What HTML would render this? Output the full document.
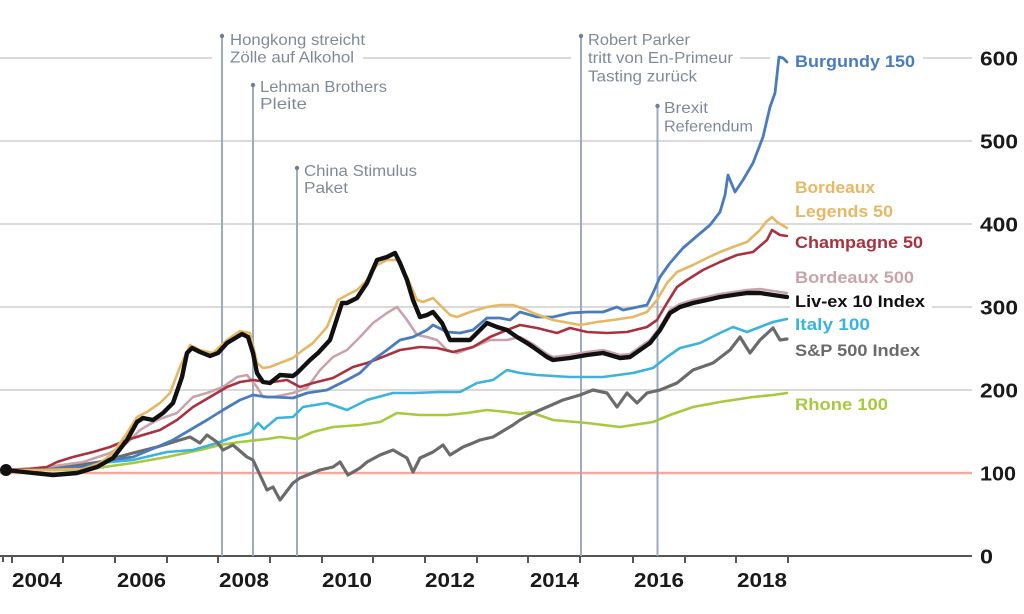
<!DOCTYPE html>
<html>
<head>
<meta charset="utf-8">
<style>
html,body{margin:0;padding:0;background:#fff;}
svg{display:block;}
text{font-family:"Liberation Sans",sans-serif;}
.ann{fill:#7f8a99;font-size:16px;}
.lab{font-size:17px;font-weight:bold;}
.ax{fill:#1a1a1a;font-size:20px;font-weight:bold;}
.s{fill:none;stroke-linejoin:round;stroke-linecap:round;}
</style>
</head>
<body>
<svg width="1024" height="614" viewBox="0 0 1024 614" xmlns="http://www.w3.org/2000/svg">
<rect width="1024" height="614" fill="#fff"/>

<!-- gridlines -->
<g stroke="#cdcdcd" stroke-width="1.6">
  <line x1="0" y1="58" x2="212" y2="58"/>
  <line x1="363" y1="58" x2="571" y2="58"/>
  <line x1="740" y1="58" x2="770" y2="58"/>
  <line x1="923" y1="58" x2="972" y2="58"/>
  <line x1="0" y1="141" x2="972" y2="141"/>
  <line x1="0" y1="224" x2="972" y2="224"/>
  <line x1="0" y1="307" x2="790" y2="307"/>
  <line x1="932" y1="307" x2="972" y2="307"/>
  <line x1="0" y1="390" x2="972" y2="390"/>
</g>
<!-- 100 baseline -->
<line x1="0" y1="473" x2="972" y2="473" stroke="#f3a99b" stroke-width="2.4"/>

<!-- x axis -->
<g stroke="#555" stroke-width="2">
  <line x1="0" y1="556" x2="972" y2="556"/>
  <line x1="3" y1="556" x2="3" y2="562"/>
  <line x1="12" y1="556" x2="12" y2="563"/>
  <line x1="63" y1="556" x2="63" y2="563"/>
  <line x1="115" y1="556" x2="115" y2="563"/>
  <line x1="167" y1="556" x2="167" y2="563"/>
  <line x1="218" y1="556" x2="218" y2="563"/>
  <line x1="270" y1="556" x2="270" y2="563"/>
  <line x1="322" y1="556" x2="322" y2="563"/>
  <line x1="373" y1="556" x2="373" y2="563"/>
  <line x1="425" y1="556" x2="425" y2="563"/>
  <line x1="477" y1="556" x2="477" y2="563"/>
  <line x1="528" y1="556" x2="528" y2="563"/>
  <line x1="580" y1="556" x2="580" y2="563"/>
  <line x1="633" y1="556" x2="633" y2="563"/>
  <line x1="685" y1="556" x2="685" y2="563"/>
  <line x1="736" y1="556" x2="736" y2="563"/>
  <line x1="788" y1="556" x2="788" y2="563"/>
</g>
<g class="ax">
  <text x="12" y="587" textLength="50" lengthAdjust="spacingAndGlyphs">2004</text>
  <text x="117" y="587" textLength="49" lengthAdjust="spacingAndGlyphs">2006</text>
  <text x="219" y="587" textLength="50" lengthAdjust="spacingAndGlyphs">2008</text>
  <text x="322" y="587" textLength="50" lengthAdjust="spacingAndGlyphs">2010</text>
  <text x="425" y="587" textLength="50" lengthAdjust="spacingAndGlyphs">2012</text>
  <text x="530" y="587" textLength="49" lengthAdjust="spacingAndGlyphs">2014</text>
  <text x="634" y="587" textLength="50" lengthAdjust="spacingAndGlyphs">2016</text>
  <text x="737" y="587" textLength="50" lengthAdjust="spacingAndGlyphs">2018</text>
</g>
<!-- y labels -->
<g class="ax">
  <text x="980" y="65.5" textLength="38" lengthAdjust="spacingAndGlyphs">600</text>
  <text x="980" y="148.5" textLength="38" lengthAdjust="spacingAndGlyphs">500</text>
  <text x="980" y="231.5" textLength="38" lengthAdjust="spacingAndGlyphs">400</text>
  <text x="980" y="314.5" textLength="38" lengthAdjust="spacingAndGlyphs">300</text>
  <text x="980" y="397.5" textLength="38" lengthAdjust="spacingAndGlyphs">200</text>
  <text x="980" y="480.5" textLength="36" lengthAdjust="spacingAndGlyphs">100</text>
  <text x="980" y="563.5" textLength="13" lengthAdjust="spacingAndGlyphs">0</text>
</g>

<!-- annotation lines -->
<g stroke="#9cabbf" stroke-width="2">
  <line x1="222" y1="36" x2="222" y2="556"/>
  <line x1="253" y1="85" x2="253" y2="556"/>
  <line x1="297" y1="168" x2="297" y2="556"/>
  <line x1="581" y1="36" x2="581" y2="556"/>
  <line x1="657.5" y1="106" x2="657.5" y2="556"/>
</g>
<g fill="#6f7f96">
  <circle cx="222" cy="36" r="2.2"/>
  <circle cx="253" cy="85" r="2.2"/>
  <circle cx="297" cy="168" r="2.2"/>
  <circle cx="581" cy="36" r="2.2"/>
  <circle cx="657.5" cy="106" r="2.2"/>
</g>
<g class="ann">
  <text x="230" y="45" textLength="135" lengthAdjust="spacingAndGlyphs">Hongkong streicht</text>
  <text x="230" y="62.5" textLength="124" lengthAdjust="spacingAndGlyphs">Zölle auf Alkohol</text>
  <text x="260" y="92" textLength="127" lengthAdjust="spacingAndGlyphs">Lehman Brothers</text>
  <text x="260" y="109" textLength="47" lengthAdjust="spacingAndGlyphs">Pleite</text>
  <text x="304" y="176" textLength="113" lengthAdjust="spacingAndGlyphs">China Stimulus</text>
  <text x="304" y="193" textLength="44" lengthAdjust="spacingAndGlyphs">Paket</text>
  <text x="588" y="45" textLength="102" lengthAdjust="spacingAndGlyphs">Robert Parker</text>
  <text x="588" y="63" textLength="145" lengthAdjust="spacingAndGlyphs">tritt von En-Primeur</text>
  <text x="588" y="81.5" textLength="109" lengthAdjust="spacingAndGlyphs">Tasting zurück</text>
  <text x="664" y="113" textLength="44" lengthAdjust="spacingAndGlyphs">Brexit</text>
  <text x="664" y="131.5" textLength="89" lengthAdjust="spacingAndGlyphs">Referendum</text>
</g>

<!-- series -->
<!-- Rhone -->
<polyline class="s" stroke="#a6c93e" stroke-width="2.6" points="6,470 83,470 133,463 167,457 200,450 220,445 240,442 267,439 280,437 297,439 313,432 333,427 360,425 380,422 397,413 420,415 447,415 467,413 487,410 507,412 520,414 530,412 553,420 587,423 620,427 653,422 670,415 693,407 720,402 753,397 773,395 787,393"/>
<!-- Italy -->
<polyline class="s" stroke="#3bb3dc" stroke-width="2.6" points="6,470 67,467 100,463 133,460 167,452 193,450 217,443 233,437 250,433 258,423 264,429 277,418 293,417 303,407 327,403 347,410 367,400 393,393 413,393 440,392 460,392 477,383 493,380 507,370 520,373 537,375 570,377 603,377 633,373 653,368 667,357 680,348 700,343 720,333 733,327 747,332 760,327 773,322 787,319"/>
<!-- S&P -->
<polyline class="s" stroke="#6b6b6b" stroke-width="3.2" points="6,470 33,470 67,467 100,462 133,453 157,447 180,440 190,437 200,443 207,435 217,442 223,450 233,445 247,457 253,460 267,490 273,487 280,500 293,483 300,478 320,470 333,467 340,462 348,475 360,468 367,462 380,455 393,450 407,458 413,472 420,458 433,452 443,445 450,455 463,447 473,443 480,440 493,437 513,425 520,420 533,413 547,407 563,400 580,395 593,390 607,393 617,407 627,393 637,403 647,393 660,390 677,383 693,370 713,363 730,350 740,337 750,353 760,340 773,328 780,340 787,339"/>
<!-- Bordeaux 500 -->
<polyline class="s" stroke="#c9a3ab" stroke-width="2.6" points="6,470 47,467 83,462 110,453 127,443 140,430 157,420 177,413 193,397 207,393 223,387 237,377 247,375 257,387 263,397 273,397 293,393 307,388 320,370 333,357 347,350 360,337 373,323 387,313 397,307 407,320 417,335 427,337 437,340 447,350 457,353 473,347 490,340 507,340 520,337 533,344 547,354 553,357 570,355 587,352 603,350 620,355 630,354 640,347 650,340 660,327 670,310 680,304 693,300 707,297 720,294 733,292 747,290 760,289 773,291 787,293"/>
<!-- Champagne -->
<polyline class="s" stroke="#a8323f" stroke-width="2.6" points="6,470 30,469 47,467 57,462 73,457 93,452 110,447 127,440 143,435 160,430 177,420 193,407 210,397 227,387 240,382 253,380 267,382 273,382 287,380 300,387 313,383 333,378 353,367 367,363 380,358 400,350 420,347 437,348 453,352 473,347 490,337 507,330 520,325 537,328 557,333 570,328 587,332 607,333 627,332 647,327 657,320 667,303 677,287 687,280 703,270 720,262 737,255 753,252 767,240 772,230 780,235 787,236"/>
<!-- Burgundy -->
<polyline class="s" stroke="#4a7bbd" stroke-width="2.8" points="6,470 40,470 83,467 110,460 133,457 157,447 173,440 190,430 207,420 223,410 240,400 253,395 267,397 273,397 293,398 307,393 327,390 347,380 360,373 373,360 387,350 400,340 413,337 427,330 433,325 447,332 460,333 473,330 487,318 500,318 510,320 520,312 537,317 553,317 570,313 587,312 603,312 617,307 623,310 633,308 647,305 653,293 660,277 670,263 683,248 697,236 710,225 720,212 725,195 728,175 735,192 743,180 753,163 763,137 770,107 775,93 779,57 783,58 787,62"/>
<!-- Bordeaux Legends -->
<polyline class="s" stroke="#e6b865" stroke-width="2.6" points="6,470 40,470 83,469 100,463 113,453 127,433 137,417 147,412 160,403 170,393 180,367 190,345 200,350 213,353 227,340 240,331 250,333 257,363 263,368 270,367 280,363 293,358 303,350 313,343 327,327 338,300 347,295 357,290 367,280 377,265 387,260 397,260 407,277 417,300 423,302 433,298 442,307 450,315 457,317 470,312 487,307 500,305 513,305 527,310 533,313 553,320 580,325 597,322 613,320 633,317 647,312 657,300 667,283 677,272 693,265 707,258 720,252 733,247 747,242 760,230 766,222 772,217 777,222 787,228"/>
<!-- Liv-ex 10 -->
<polyline class="s" stroke="#111" stroke-width="4.4" points="6,470 33,473 53,475 77,473 97,467 113,458 127,440 137,422 143,418 153,420 163,413 173,403 182,377 187,353 192,348 200,352 210,356 218,353 227,343 237,337 242,334 248,337 253,353 257,373 263,382 270,383 280,375 293,376 297,373 310,360 318,353 330,340 342,303 347,303 357,298 367,283 377,260 387,257 395,253 400,263 407,280 413,300 420,317 427,315 433,312 442,323 450,340 460,340 470,340 477,333 487,323 497,327 507,330 517,337 527,343 533,347 547,357 553,360 570,358 587,355 603,353 620,358 630,357 640,350 650,343 660,330 670,313 680,307 693,303 707,300 720,297 733,295 747,293 760,293 773,295 787,297"/>
<circle cx="6" cy="470" r="6" fill="#111"/>

<!-- series labels -->
<g class="lab">
  <text x="795" y="67" fill="#4a7bbd" textLength="120" lengthAdjust="spacingAndGlyphs">Burgundy 150</text>
  <text x="795" y="193" fill="#e6b865" textLength="80" lengthAdjust="spacingAndGlyphs">Bordeaux</text>
  <text x="795" y="217" fill="#e6b865" textLength="98" lengthAdjust="spacingAndGlyphs">Legends 50</text>
  <text x="795" y="248" fill="#a8323f" textLength="128" lengthAdjust="spacingAndGlyphs">Champagne 50</text>
  <text x="795" y="283" fill="#c9a3ab" textLength="119" lengthAdjust="spacingAndGlyphs">Bordeaux 500</text>
  <text x="795" y="307" fill="#111" textLength="130" lengthAdjust="spacingAndGlyphs">Liv-ex 10 Index</text>
  <text x="795" y="330" fill="#3bb3dc" textLength="75" lengthAdjust="spacingAndGlyphs">Italy 100</text>
  <text x="795" y="356" fill="#6b6b6b" textLength="125" lengthAdjust="spacingAndGlyphs">S&amp;P 500 Index</text>
  <text x="795" y="410" fill="#a6c93e" textLength="93" lengthAdjust="spacingAndGlyphs">Rhone 100</text>
</g>
</svg>
</body>
</html>
